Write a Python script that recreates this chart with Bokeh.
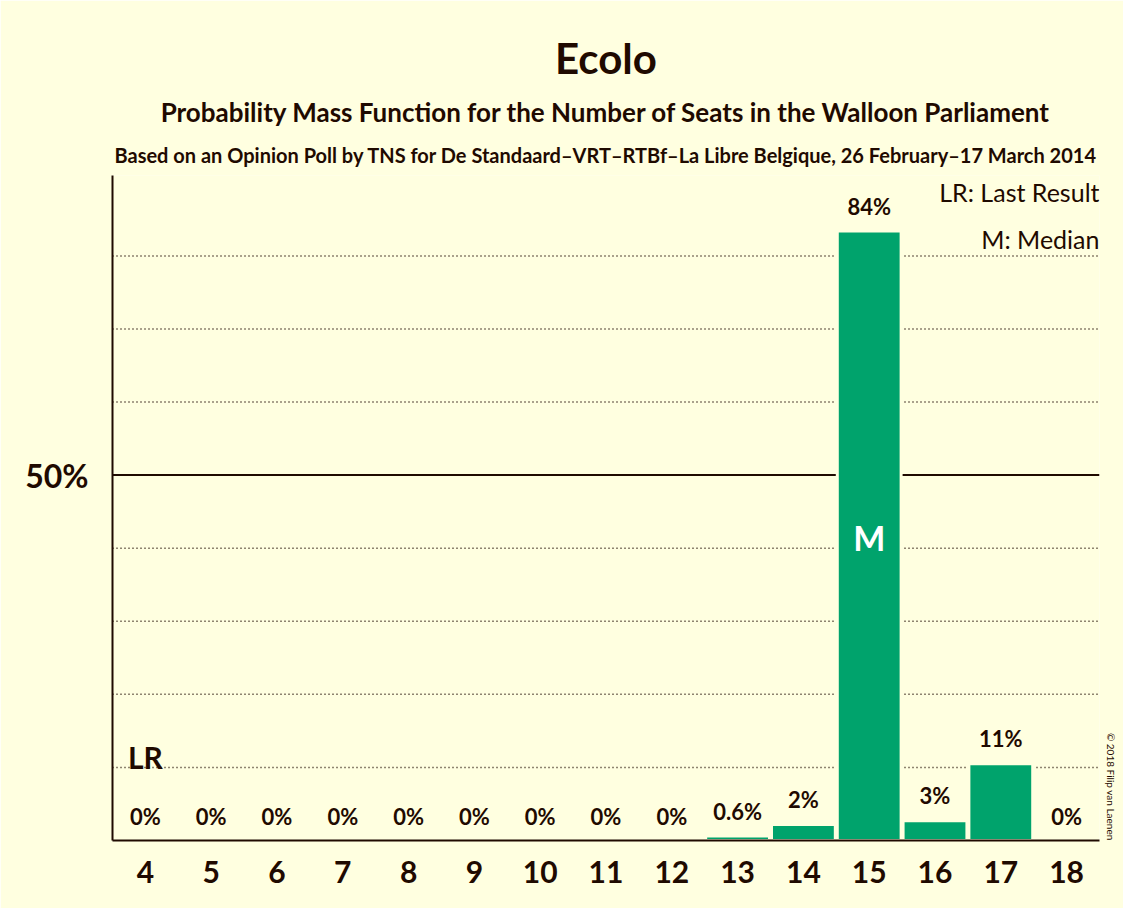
from bokeh.plotting import figure
from bokeh.models import Range1d, FixedTicker, Label, Title
from bokeh.embed import file_html
from bokeh.resources import INLINE

seats = [4, 5, 6, 7, 8, 9, 10, 11, 12, 13, 14, 15, 16, 17, 18]
probs = [0, 0, 0, 0, 0, 0, 0, 0, 0, 0.6, 2.2, 83.4, 2.7, 10.5, 0]
labels = ["0%", "0%", "0%", "0%", "0%", "0%", "0%", "0%", "0%", "0.6%", "2%", "84%", "3%", "11%", "0%"]
dotted = [10, 20, 30, 40, 60, 70, 80]
median_seat = 15
last_result = 4

bg = "#FFFFE0"
ink = "#1F0A00"
green = "#00A36C"
font = "Lato"

p = figure(width=1123, height=908, output_backend="svg", toolbar_location=None,
           x_range=Range1d(3.5, 18.5), y_range=Range1d(0, 91),
           min_border_left=112, min_border_right=13, min_border_top=175, min_border_bottom=68)
p.background_fill_color = bg
p.border_fill_color = bg
p.outline_line_color = None
p.grid.visible = False

for g in dotted:
    p.line([3.5, 18.5], [g, g], line_color=ink, line_dash="1 3", line_width=1.5)
p.line([3.5, 18.5], [50, 50], line_color=ink, line_width=2)

p.vbar(x=seats, top=probs, width=0.97, fill_color=green, line_color=bg, line_width=3)

p.xaxis.ticker = FixedTicker(ticks=seats)
p.yaxis.ticker = FixedTicker(ticks=[50])
p.yaxis.major_label_overrides = {50: "50%"}
for ax in (p.xaxis, p.yaxis):
    ax.major_tick_line_color = None
    ax.minor_tick_line_color = None
    ax.axis_line_color = ink
    ax.axis_line_width = 2
    ax.major_label_text_font = font
    ax.major_label_text_font_style = "bold"
    ax.major_label_text_color = ink
p.xaxis.major_label_text_font_size = "30px"
p.xaxis.major_label_standoff = 14
p.yaxis.major_label_text_font_size = "32px"
p.yaxis.major_label_standoff = 18


def lab(x, y, t, size, align="center", color=ink, bold=True):
    p.add_layout(Label(x=x, y=y, text=t, text_font=font, text_font_size=size,
                       text_font_style="bold" if bold else "normal", text_color=color,
                       text_align=align, text_baseline="middle"))


for s, v, t in zip(seats, probs, labels):
    lab(s, v + 3.4 if v > 0 else 3.3, t, "22px")

lab(18.5, 88.8, "LR: Last Result", "25px", align="right", bold=False)
lab(18.5, 82.3, "M: Median", "25px", align="right", bold=False)
lab(last_result, 11.4, "LR", "30px")
lab(median_seat, 41.4, "M", "34px", color="white")


def title(t, size, standoff):
    p.add_layout(Title(text=t, text_font=font, text_font_size=size, text_font_style="bold",
                       text_color=ink, align="center", standoff=standoff), "above")


title("Based on an Opinion Poll by TNS for De Standaard\u2013VRT\u2013RTBf\u2013La Libre Belgique, 26 February\u201317 March 2014", "20px", 18)
title("Probability Mass Function for the Number of Seats in the Walloon Parliament", "26px", 8)
title("Ecolo", "42px", 14)
p.add_layout(Title(text="\u00a9 2018 Filip van Laenen", text_font=font, text_font_size="10px",
                   text_font_style="normal", text_color=ink, align="right"), "right")

open("out.html", "w").write(file_html(p, INLINE))
